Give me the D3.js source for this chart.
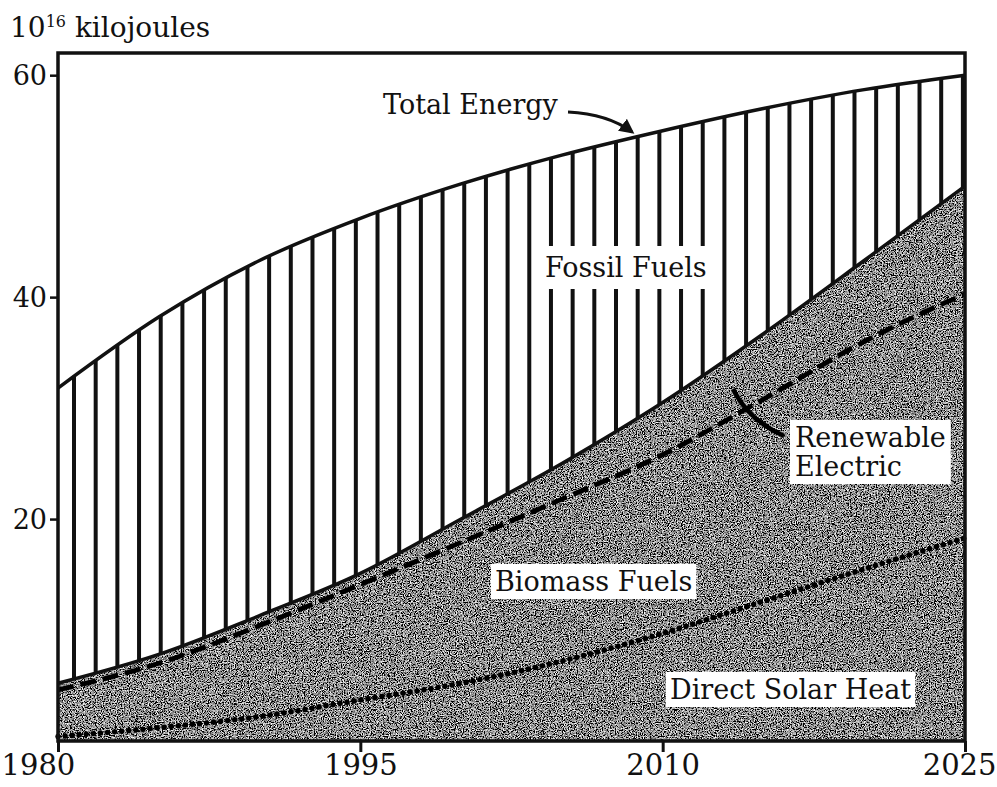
<!DOCTYPE html>
<html>
<head>
<meta charset="utf-8">
<script src="https://cdn.jsdelivr.net/npm/d3@7"></script>
<style>
  html, body { margin: 0; padding: 0; background: #fff; }
  svg { display: block; }
  text { font-family: "DejaVu Serif", serif; fill: #111; }
</style>
</head>
<body>
<svg id="chart" width="997" height="787"></svg>
<script>
// ---------------- DATA ----------------
const years = [1980, 1985, 1990, 1995, 2000, 2005, 2010, 2015, 2020, 2025];
const directSolarHeat  = [0.4, 1.2, 2.2, 3.7, 5.2, 7.2, 9.7, 12.6, 15.5, 18.3];
const biomassFuels     = [4.2, 5.8, 8.2, 10.4, 12.7, 14.6, 16.1, 18.2, 20.5, 22.0];
const renewableElectric= [0.6, 0.8, 0.9, 1.0, 2.1, 3.2, 4.7, 5.9, 7.3, 9.7];
const fossilFuels      = [26.6, 30.4, 32.0, 32.0, 30.2, 27.8, 24.5, 20.3, 15.4, 10.0];
const seriesKeys = ["Direct Solar Heat", "Biomass Fuels", "Renewable Electric", "Fossil Fuels"];
const xTickValues = [1980, 1995, 2010, 2025];
const yTickValues = [20, 40, 60];
const yAxisTitle = "kilojoules";

// ---------------- SETUP ----------------
const W = 997, H = 787;
const svg = d3.select("#chart");
const x = d3.scaleLinear().domain([1980, 2025]).range([58, 965]);
const y = d3.scaleLinear().domain([0, 62]).range([741, 53]);

const table = years.map((yr, i) => ({
  year: yr,
  "Direct Solar Heat": directSolarHeat[i],
  "Biomass Fuels": biomassFuels[i],
  "Renewable Electric": renewableElectric[i],
  "Fossil Fuels": fossilFuels[i]
}));
const stacked = d3.stack().keys(seriesKeys)(table);
const sSolar = stacked[0], sBio = stacked[1], sRen = stacked[2], sFos = stacked[3];

const curve = d3.curveMonotoneX;
const lineTop = d3.line().x(d => x(d.data.year)).y(d => y(d[1])).curve(curve);
const areaBand = d3.area().x(d => x(d.data.year)).y0(d => y(d[0])).y1(d => y(d[1])).curve(curve);
const areaFromZero = d3.area().x(d => x(d.data.year)).y0(y(0)).y1(d => y(d[1])).curve(curve);

const defs = svg.append("defs");

// speckled texture filter
const f = defs.append("filter").attr("id", "speckle")
  .attr("x", 0).attr("y", 0).attr("width", "100%").attr("height", "100%")
  .attr("filterUnits", "userSpaceOnUse");
f.append("feTurbulence").attr("type", "fractalNoise").attr("baseFrequency", 0.85)
  .attr("numOctaves", 2).attr("seed", 7).attr("result", "n");
f.append("feColorMatrix").attr("in", "n").attr("type", "matrix")
  .attr("values", "0.33 0.33 0.33 0 0  0.33 0.33 0.33 0 0  0.33 0.33 0.33 0 0  0 0 0 0 1")
  .attr("result", "g");
const ct = f.append("feComponentTransfer").attr("in", "g");
["feFuncR", "feFuncG", "feFuncB"].forEach(fn =>
  ct.append(fn).attr("type", "linear").attr("slope", 5).attr("intercept", -2.2));

// clip for gray area
defs.append("clipPath").attr("id", "grayClip")
  .append("path").attr("d", areaFromZero(sRen));
// clip for fossil (hatched) band
defs.append("clipPath").attr("id", "fossilClip")
  .append("path").attr("d", areaBand(sFos));

// arrow marker
defs.append("marker").attr("id", "arrow").attr("viewBox", "0 0 10 10")
  .attr("refX", 8).attr("refY", 5).attr("markerWidth", 5).attr("markerHeight", 5)
  .attr("orient", "auto-start-reverse").attr("markerUnits", "strokeWidth")
  .append("path").attr("d", "M0,0 L10,5 L0,10 z").attr("fill", "#111");

svg.append("rect").attr("width", W).attr("height", H).attr("fill", "#fff");

// ---------------- GRAY AREA ----------------
const grayG = svg.append("g").attr("clip-path", "url(#grayClip)");
grayG.append("rect").attr("x", x(1980)).attr("y", y(62))
  .attr("width", x(2025) - x(1980)).attr("height", y(0) - y(62))
  .attr("fill", "#777");
grayG.append("rect").attr("x", x(1980)).attr("y", y(62))
  .attr("width", x(2025) - x(1980)).attr("height", y(0) - y(62))
  .attr("filter", "url(#speckle)");

// ---------------- HATCH ----------------
const hatchG = svg.append("g").attr("clip-path", "url(#fossilClip)");
const hatchStep = 21.68;
hatchG.selectAll("line").data(d3.range(x(1980) + 16, x(2025) + 1, hatchStep))
  .join("line")
  .attr("x1", d => d).attr("x2", d => d)
  .attr("y1", y(62)).attr("y2", y(0))
  .attr("stroke", "#111").attr("stroke-width", 4);

// ---------------- LINES ----------------
svg.append("path").attr("d", lineTop(sSolar)).attr("fill", "none")
  .attr("stroke", "#000").attr("stroke-width", 5.5)
  .attr("stroke-linecap", "round").attr("stroke-dasharray", "0.1,7");
svg.append("path").attr("d", lineTop(sBio)).attr("fill", "none")
  .attr("stroke", "#000").attr("stroke-width", 4.8)
  .attr("stroke-dasharray", "16,7");
svg.append("path").attr("d", lineTop(sRen)).attr("fill", "none")
  .attr("stroke", "#111").attr("stroke-width", 3.5);
svg.append("path").attr("d", lineTop(sFos)).attr("fill", "none")
  .attr("stroke", "#111").attr("stroke-width", 3.5);

// ---------------- FRAME & AXES ----------------
svg.append("path")
  .attr("d", `M${x(1980)},${y(0)} V${y(62)} H${x(2025)} V${y(0)} Z`)
  .attr("fill", "none").attr("stroke", "#111").attr("stroke-width", 3.5);

const yAxis = svg.append("g").attr("transform", `translate(${x(1980)},0)`)
  .call(d3.axisLeft(y).tickValues(yTickValues).tickSize(8).tickPadding(3).tickFormat(d3.format("d")));
yAxis.select(".domain").remove();
yAxis.selectAll(".tick line").attr("stroke", "#111").attr("stroke-width", 2.5);
yAxis.selectAll(".tick text").style("font-family", "DejaVu Serif").style("font-size", "27px")
  .attr("fill", "#111").attr("dy", "0.36em");

const xAxis = svg.append("g").attr("transform", `translate(0,${y(0)})`)
  .call(d3.axisBottom(x).tickValues(xTickValues).tickSize(11).tickFormat(d3.format("d")));
xAxis.select(".domain").remove();
xAxis.selectAll(".tick line").attr("stroke", "#111").attr("stroke-width", 3);
xAxis.selectAll(".tick text").style("font-family", "DejaVu Serif").style("font-size", "29px")
  .attr("fill", "#111").attr("y", 34).attr("dy", 0)
  .attr("text-anchor", (d, i, n) => i === 0 ? "start" : (i === n.length - 1 ? "end" : "middle"))
  .attr("x", (d, i, n) => i === 0 ? 1 - x(d) : (i === n.length - 1 ? W - 1 - x(d) : 0));

// axis title
const title = svg.append("text").attr("x", 10).attr("y", 37).style("font-size", "28px");
title.append("tspan").text("10");
title.append("tspan").text("16").style("font-size", "16px").attr("dy", -10);
title.append("tspan").text(" " + yAxisTitle).attr("dy", 10);

// ---------------- LABELS ----------------
function boxedLabel(lines, x0, yBase, lh, pad) {
  const g = svg.append("g");
  const rect = g.append("rect").attr("fill", "#fff");
  const t = g.append("text").style("font-size", "27px");
  lines.forEach((s, i) => t.append("tspan").attr("x", x0).attr("y", yBase + i * lh).text(s));
  const bb = t.node().getBBox();
  rect.attr("x", bb.x - pad[0]).attr("y", bb.y - pad[1])
    .attr("width", bb.width + 2 * pad[0]).attr("height", bb.height + 2 * pad[1]);
  return g;
}
boxedLabel(["Fossil Fuels"], 545, 277, 0, [5, 6]);
boxedLabel(["Biomass Fuels"], 495, 591, 0, [4, 2]);
boxedLabel(["Direct Solar Heat"], 670, 699, 0, [4, 2]);
boxedLabel(["Renewable", "Electric"], 795, 447, 29, [5, 2]);

svg.append("text").attr("x", 383).attr("y", 114).style("font-size", "27px").text("Total Energy");

// pointers
svg.append("path").attr("d", "M568,112 Q608,114 632,132")
  .attr("fill", "none").attr("stroke", "#111").attr("stroke-width", 3)
  .attr("marker-end", "url(#arrow)");
svg.append("path").attr("d", "M784,436 Q748,420 733,389")
  .attr("fill", "none").attr("stroke", "#000").attr("stroke-width", 4.5);
</script>
</body>
</html>
